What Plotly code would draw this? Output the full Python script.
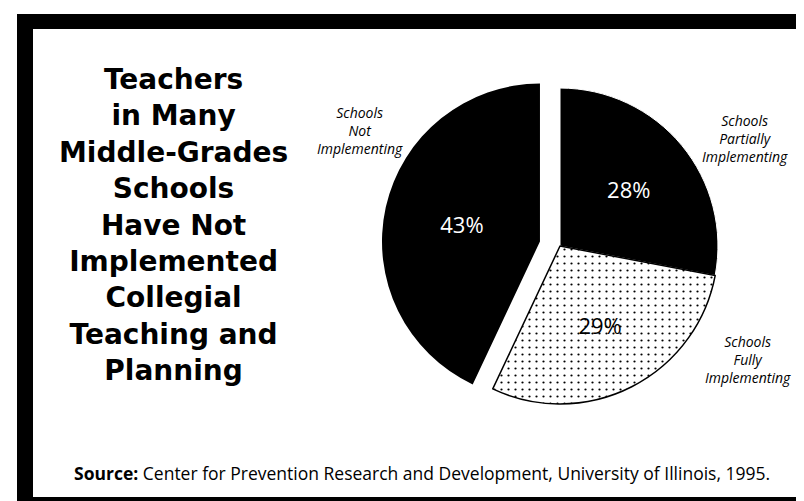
import plotly.graph_objects as go

# data
labels = ["Schools Partially Implementing", "Schools Fully Implementing", "Schools Not Implementing"]
values = [28, 29, 43]
slice_colors = ["#000000", "#ffffff", "#000000"]
text_colors = ["white", "black", "white"]
pulls = [0, 0, 0.13]

title_lines = ["Teachers", "in Many", "Middle-Grades", "Schools", "Have Not",
               "Implemented", "Collegial", "Teaching and", "Planning"]

W, H = 804, 501


def px_x(x):
    return x / W


def px_y(y):
    return 1 - y / H


fig = go.Figure()

fig.add_trace(go.Pie(
    labels=labels,
    values=values,
    sort=False,
    direction="clockwise",
    rotation=0,
    pull=pulls,
    texttemplate="%{value}%",
    textposition="inside",
    insidetextorientation="horizontal",
    textfont=dict(family="Open Sans", size=22, color=text_colors),
    marker=dict(
        colors=slice_colors,
        line=dict(color=["white", "black", "white"], width=[1, 1.5, 0]),
        pattern=dict(shape=["", ".", ""], size=7, solidity=0.08,
                     fgcolor="black", bgcolor=slice_colors),
    ),
    domain=dict(x=[px_x(373.5), px_x(730.5)], y=[px_y(416.5), px_y(59.5)]),
    hoverinfo="skip",
    showlegend=False,
))

# frame: black scan border with white panel
shapes = [
    dict(type="rect", xref="paper", yref="paper", layer="below",
         x0=px_x(9), x1=1, y0=0, y1=px_y(6),
         fillcolor="black", line=dict(width=0)),
    dict(type="rect", xref="paper", yref="paper", layer="below",
         x0=px_x(25), x1=px_x(797), y0=px_y(489), y1=px_y(21),
         fillcolor="white", line=dict(width=0)),
]

annotations = [dict(
    text="<b>" + "<br>".join(title_lines) + "</b>",
    x=px_x(165), y=px_y(217), xref="paper", yref="paper", showarrow=False,
    xanchor="center", yanchor="middle", align="center",
    font=dict(family="DejaVu Sans", size=28, color="black"),
)]

side_labels = [
    ("Schools<br>Not<br>Implementing", 352, 122),
    ("Schools<br>Partially<br>Implementing", 737, 130),
    ("Schools<br>Fully<br>Implementing", 740, 351),
]
for txt, x, y in side_labels:
    annotations.append(dict(
        text=f"<i>{txt}</i>", x=px_x(x), y=px_y(y),
        xref="paper", yref="paper", showarrow=False,
        xanchor="center", yanchor="middle", align="center",
        font=dict(family="Open Sans", size=14, color="black"),
    ))

annotations.append(dict(
    text="<b>Source:</b> Center for Prevention Research and Development, University of Illinois, 1995.",
    x=px_x(414), y=px_y(465), xref="paper", yref="paper", showarrow=False,
    xanchor="center", yanchor="middle",
    font=dict(family="Open Sans", size=17.5, color="black"),
))

fig.update_layout(
    width=W, height=H,
    margin=dict(l=0, r=0, t=0, b=0),
    paper_bgcolor="white",
    plot_bgcolor="white",
    shapes=shapes,
    annotations=annotations,
)

fig.write_html("out.html")
